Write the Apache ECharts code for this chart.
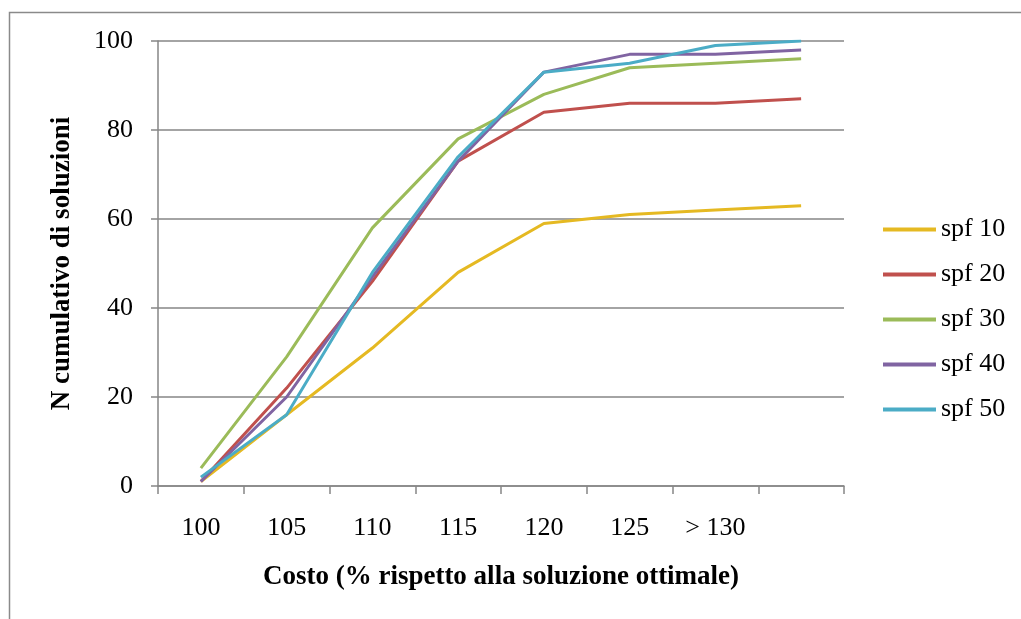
<!DOCTYPE html>
<html>
<head>
<meta charset="utf-8">
<script src="https://cdn.jsdelivr.net/npm/echarts@6/dist/echarts.min.js"></script>
<style>
html,body{margin:0;padding:0;background:#fff;}
#main{width:1021px;height:619px;}
</style>
</head>
<body>
<div id="main"></div>
<script>
const categories = ['100', '105', '110', '115', '120', '125', '> 130', ''];
const spf10 = [1, 16, 31, 48, 59, 61, 62, 63];
const spf20 = [1, 22, 46, 73, 84, 86, 86, 87];
const spf30 = [4, 29, 58, 78, 88, 94, 95, 96];
const spf40 = [1, 20, 47, 73, 93, 97, 97, 98];
const spf50 = [2, 16, 48, 74, 93, 95, 99, 100];
const seriesNames = ['spf 10', 'spf 20', 'spf 30', 'spf 40', 'spf 50'];
const yTicks = [0, 20, 40, 60, 80, 100];

const colors = ['#E5B922', '#C0504D', '#9BBB59', '#8064A2', '#4BACC6'];
const font = '"Liberation Serif", "Times New Roman", serif';
const fs = 26;
const dataSets = [spf10, spf20, spf30, spf40, spf50];

const chart = echarts.init(document.getElementById('main'), null, {renderer: 'canvas'});
chart.setOption({
  animation: false,
  backgroundColor: '#fff',
  color: colors,
  graphic: [{
    type: 'rect',
    shape: {x: 9.5, y: 12.5, width: 1100, height: 700},
    style: {fill: 'none', stroke: '#8a8a8a', lineWidth: 1.5},
    silent: true
  }],
  grid: {left: 158, right: 177, top: 41, bottom: 133, containLabel: false},
  legend: {
    orient: 'vertical',
    left: 883, top: 216.5,
    padding: 0,
    itemWidth: 53, itemHeight: 4,
    itemGap: 19,
    icon: 'rect',
    textStyle: {fontFamily: font, fontSize: fs, color: '#000', lineHeight: 26},
    data: seriesNames
  },
  xAxis: {
    type: 'category',
    data: categories,
    boundaryGap: true,
    axisLine: {lineStyle: {color: '#868686', width: 1.5}},
    axisTick: {show: true, length: 8, lineStyle: {color: '#868686', width: 1.5}, alignWithLabel: false},
    axisLabel: {fontFamily: font, fontSize: fs, color: '#000', margin: 29, interval: 0},
    name: 'Costo (% rispetto alla soluzione ottimale)',
    nameLocation: 'middle',
    nameGap: 78,
    nameTextStyle: {fontFamily: font, fontSize: 27, fontWeight: 'bold', color: '#000', verticalAlign: 'top'}
  },
  yAxis: {
    type: 'value',
    min: yTicks[0], max: yTicks[yTicks.length - 1], interval: 20,
    axisLine: {show: true, lineStyle: {color: '#868686', width: 1.5}},
    axisTick: {show: true, length: 7, lineStyle: {color: '#868686', width: 1.5}},
    axisLabel: {fontFamily: font, fontSize: fs, color: '#000', margin: 25},
    splitLine: {show: true, lineStyle: {color: '#868686', width: 1.5}},
    name: 'N cumulativo di soluzioni',
    nameLocation: 'middle',
    nameGap: 82,
    nameTextStyle: {fontFamily: font, fontSize: 27, fontWeight: 'bold', color: '#000'}
  },
  series: seriesNames.map((n, i) => ({
    name: n,
    type: 'line',
    data: dataSets[i],
    showSymbol: false,
    symbol: 'none',
    lineStyle: {width: 3, color: colors[i]},
    itemStyle: {color: colors[i]}
  }))
});
</script>
</body>
</html>
